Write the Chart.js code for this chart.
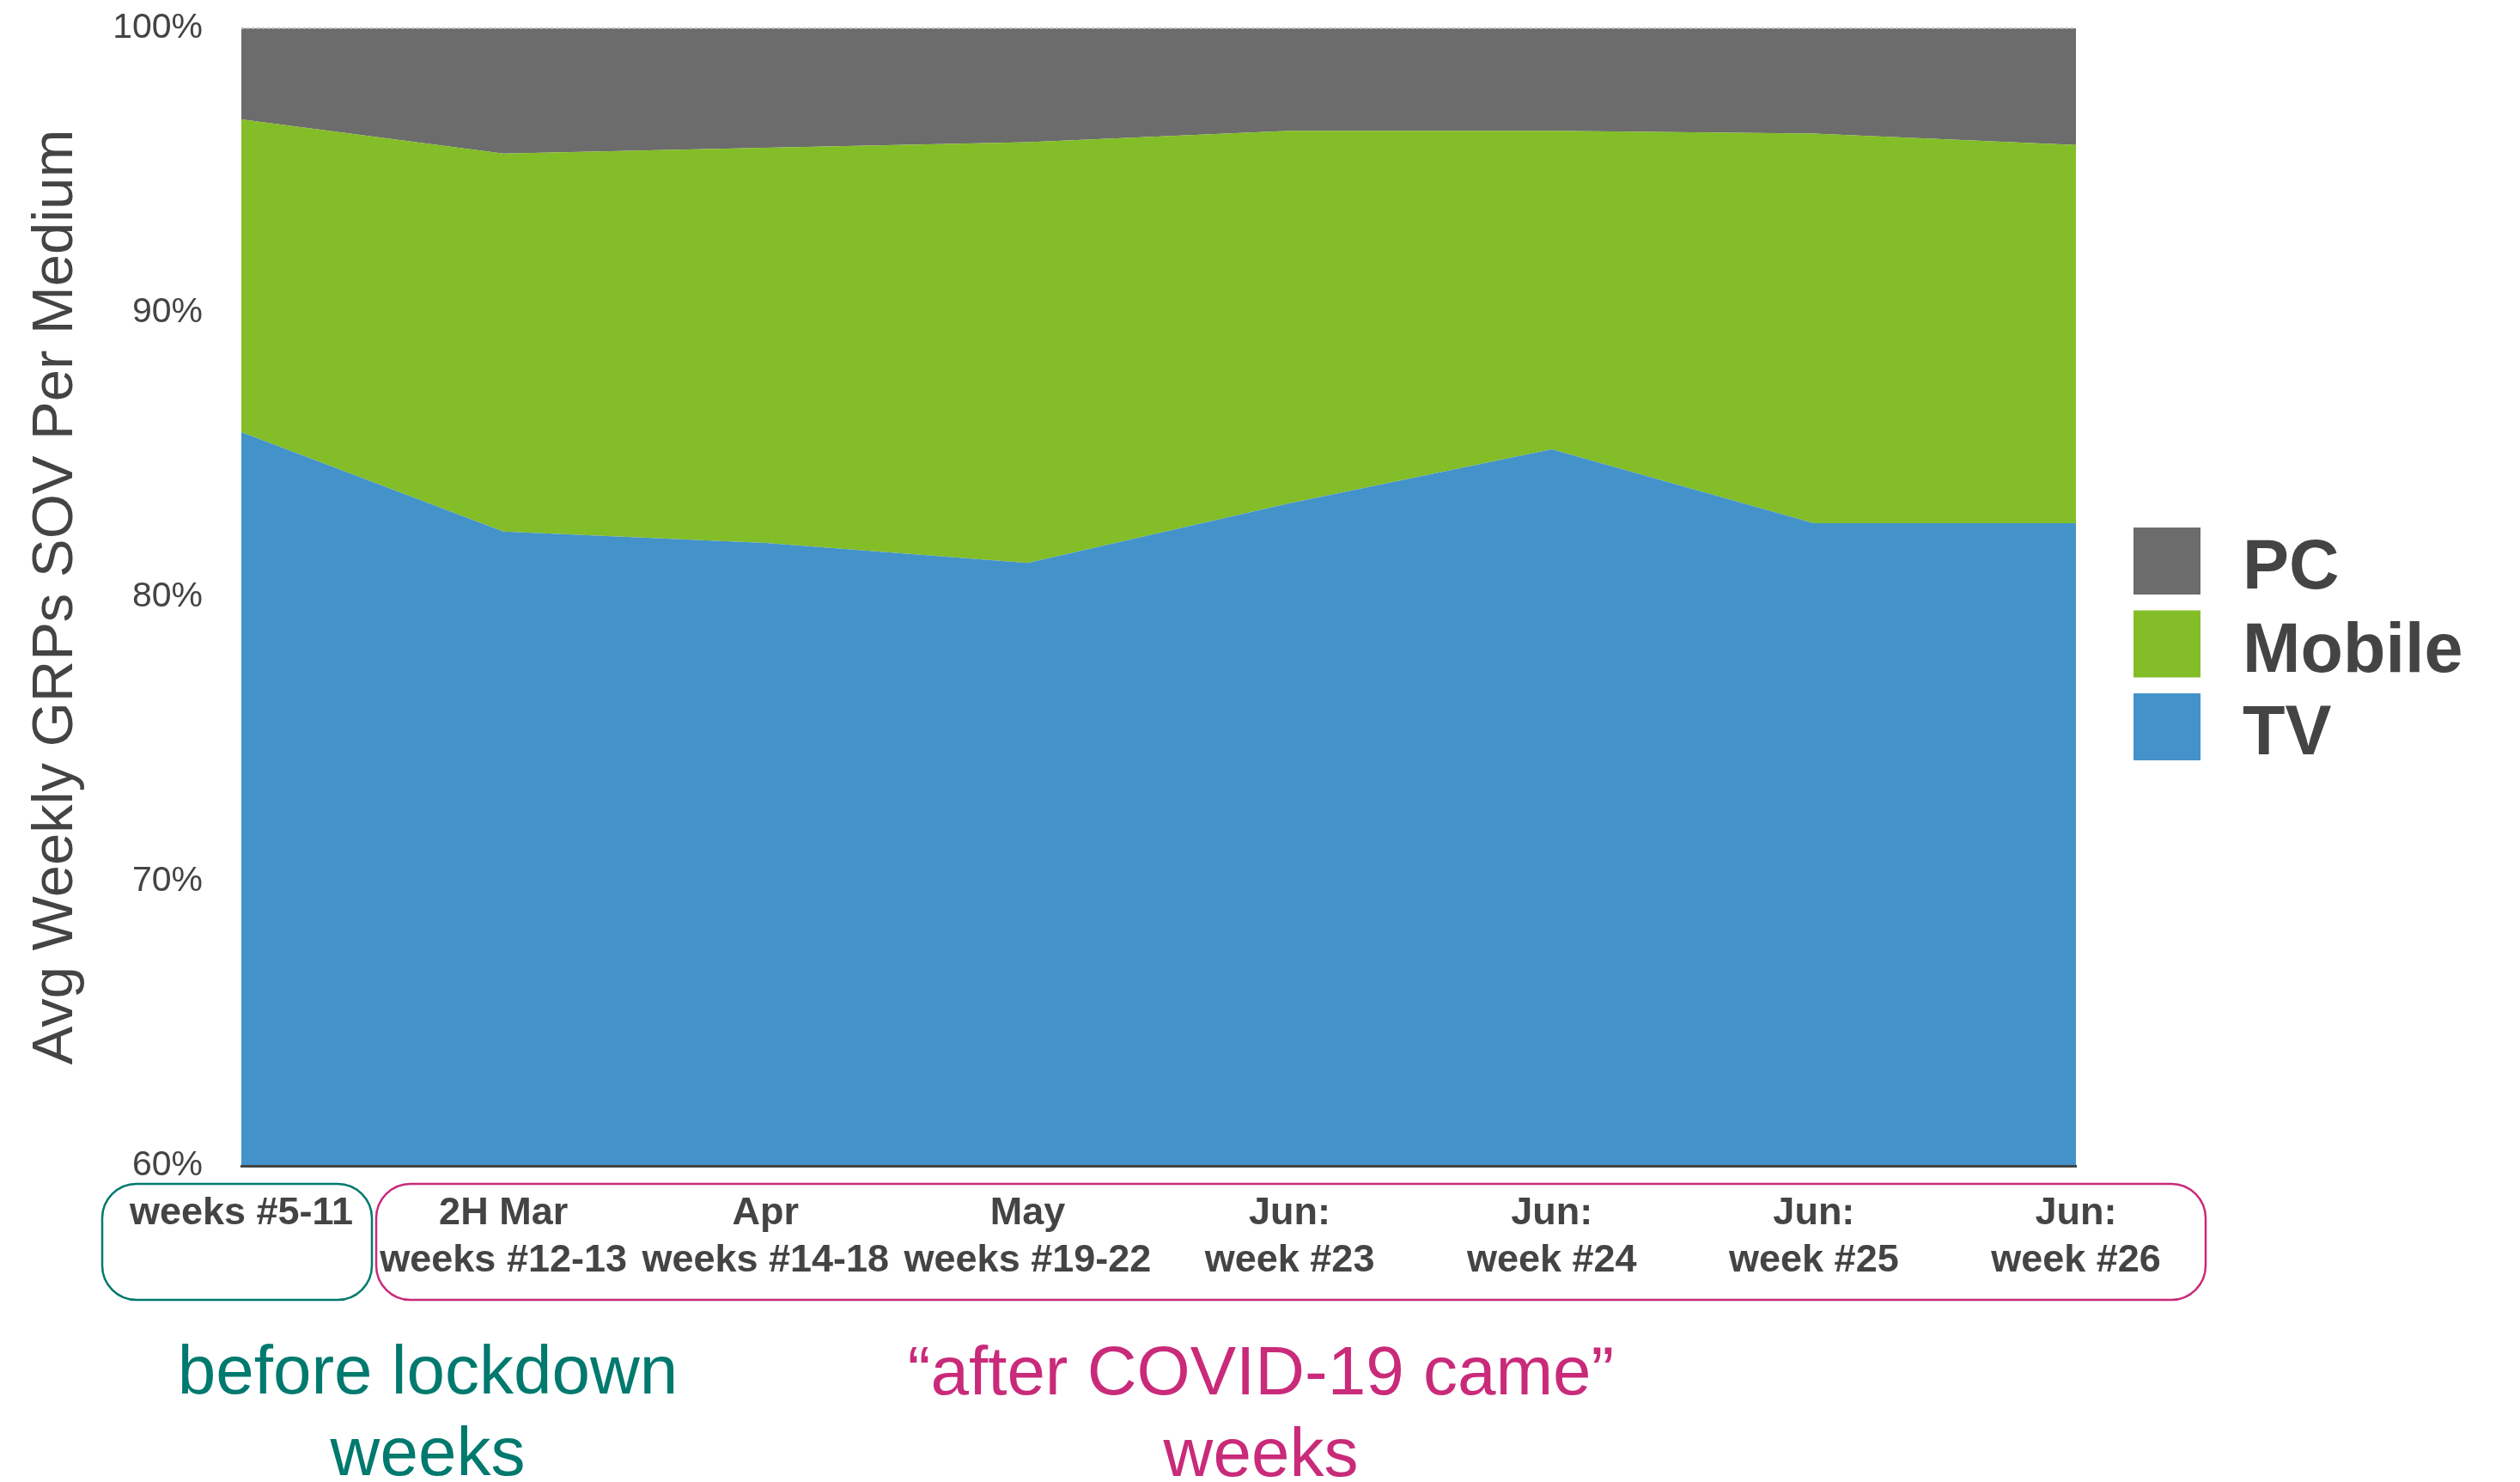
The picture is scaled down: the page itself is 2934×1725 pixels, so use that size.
<!DOCTYPE html>
<html lang="en">
<head>
<meta charset="UTF-8">
<title>Avg Weekly GRPs SOV Per Medium</title>
<style>
  html, body { margin: 0; padding: 0; background: #fff; }
  canvas { display: block; }
</style>
</head>
<body>
<canvas id="sovChart" width="2934" height="1725"></canvas>

<script src="https://cdn.jsdelivr.net/npm/chart.js"></script>

<script>
  // periods on the x axis (two-line labels)
  const periods = [
    ['weeks #5-11'],
    ['2H Mar', 'weeks #12-13'],
    ['Apr', 'weeks #14-18'],
    ['May', 'weeks #19-22'],
    ['Jun:', 'week #23'],
    ['Jun:', 'week #24'],
    ['Jun:', 'week #25'],
    ['Jun:', 'week #26']
  ];

  // share of voice per medium, in %
  const tvShare     = [85.8, 82.3, 81.9, 81.2, 83.3, 85.2, 82.6, 82.6];
  const mobileShare = [11.0, 13.3, 13.9, 14.8, 13.1, 11.2, 13.7, 13.3];
  const pcShare     = [3.2, 4.4, 4.2, 4.0, 3.6, 3.6, 3.7, 4.1];

  const yTicks = [60, 70, 80, 90, 100];

  const FONT = '"Liberation Sans", Arial, Helvetica, sans-serif';
  const TEXT = '#444444';
  const TEAL = '#00796e';
  const PINK = '#c92a7a';

  // boxes round the tick labels, notes below them and the legend on the right
  const annotations = {
    id: 'annotations',
    afterDraw(chart) {
      const ctx = chart.ctx;
      ctx.save();

      ctx.lineWidth = 2.5;
      ctx.strokeStyle = TEAL;
      ctx.beginPath();
      ctx.roundRect(119, 1378, 314, 135, 40);
      ctx.stroke();

      ctx.strokeStyle = PINK;
      ctx.beginPath();
      ctx.roundRect(438, 1378, 2130, 135, 40);
      ctx.stroke();

      ctx.font = '80px ' + FONT;
      ctx.textAlign = 'center';
      ctx.textBaseline = 'alphabetic';
      ctx.fillStyle = TEAL;
      ctx.fillText('before lockdown', 498, 1622);
      ctx.fillText('weeks', 498, 1717);
      ctx.fillStyle = PINK;
      ctx.fillText('\u201Cafter COVID-19 came\u201D', 1468, 1623);
      ctx.fillText('weeks', 1468, 1718);

      // legend, top series first
      const items = chart.data.datasets.slice().reverse();
      ctx.textAlign = 'left';
      ctx.font = 'bold 81px ' + FONT;
      items.forEach((ds, i) => {
        const y = 614 + i * 96.5;
        ctx.fillStyle = ds.backgroundColor;
        ctx.fillRect(2484, y, 78, 78);
        ctx.fillStyle = TEXT;
        ctx.fillText(ds.label, 2611, y + 71);
      });

      ctx.restore();
    }
  };

  const ctx = document.getElementById('sovChart');

  new Chart(ctx, {
    type: 'line',
    data: {
      labels: periods,
      datasets: [
        { label: 'TV', data: tvShare, backgroundColor: '#4392ca', fill: 'start' },
        { label: 'Mobile', data: mobileShare, backgroundColor: '#83bd27', fill: '-1' },
        { label: 'PC', data: pcShare, backgroundColor: '#6c6c6c', fill: '-1' }
      ]
    },
    options: {
      responsive: false,
      animation: false,
      layout: { padding: { top: 33, right: 517, bottom: 208, left: 0 } },
      elements: {
        line: { borderWidth: 0, tension: 0 },
        point: { radius: 0 }
      },
      plugins: {
        legend: { display: false },
        tooltip: { enabled: false }
      },
      scales: {
        x: {
          grid: { display: false, drawTicks: false, z: 1 },
          border: { display: true, color: TEXT, width: 3, z: 1 },
          ticks: {
            color: TEXT,
            padding: 28,
            maxRotation: 0,
            autoSkip: false,
            font: { family: FONT, size: 45, weight: 'bold', lineHeight: 1.22 }
          },
          afterFit: (scale) => { scale.height = 160; }
        },
        y: {
          stacked: true,
          min: 60,
          max: 100,
          afterBuildTicks: (scale) => { scale.ticks = yTicks.map(v => ({ value: v })); },
          grid: {
            drawTicks: false,
            z: 1,
            lineWidth: 2,
            color: (c) => c.tick && c.tick.value === 100 ? '#b5b5b5' : 'rgba(0,0,0,0)'
          },
          border: { display: false, dash: [3, 3] },
          ticks: {
            color: TEXT,
            padding: 45,
            font: { family: FONT, size: 41 },
            callback: (v) => v + '%'
          },
          title: {
            display: true,
            text: 'Avg Weekly GRPs SOV Per Medium',
            color: TEXT,
            padding: { top: 25, bottom: 0 },
            font: { family: FONT, size: 67, lineHeight: 1.2 }
          },
          afterFit: (scale) => {
            scale.width = 281;
            scale.paddingTop = 0;
            scale.paddingBottom = 0;
          }
        }
      }
    },
    plugins: [annotations]
  });
</script>
</body>
</html>
